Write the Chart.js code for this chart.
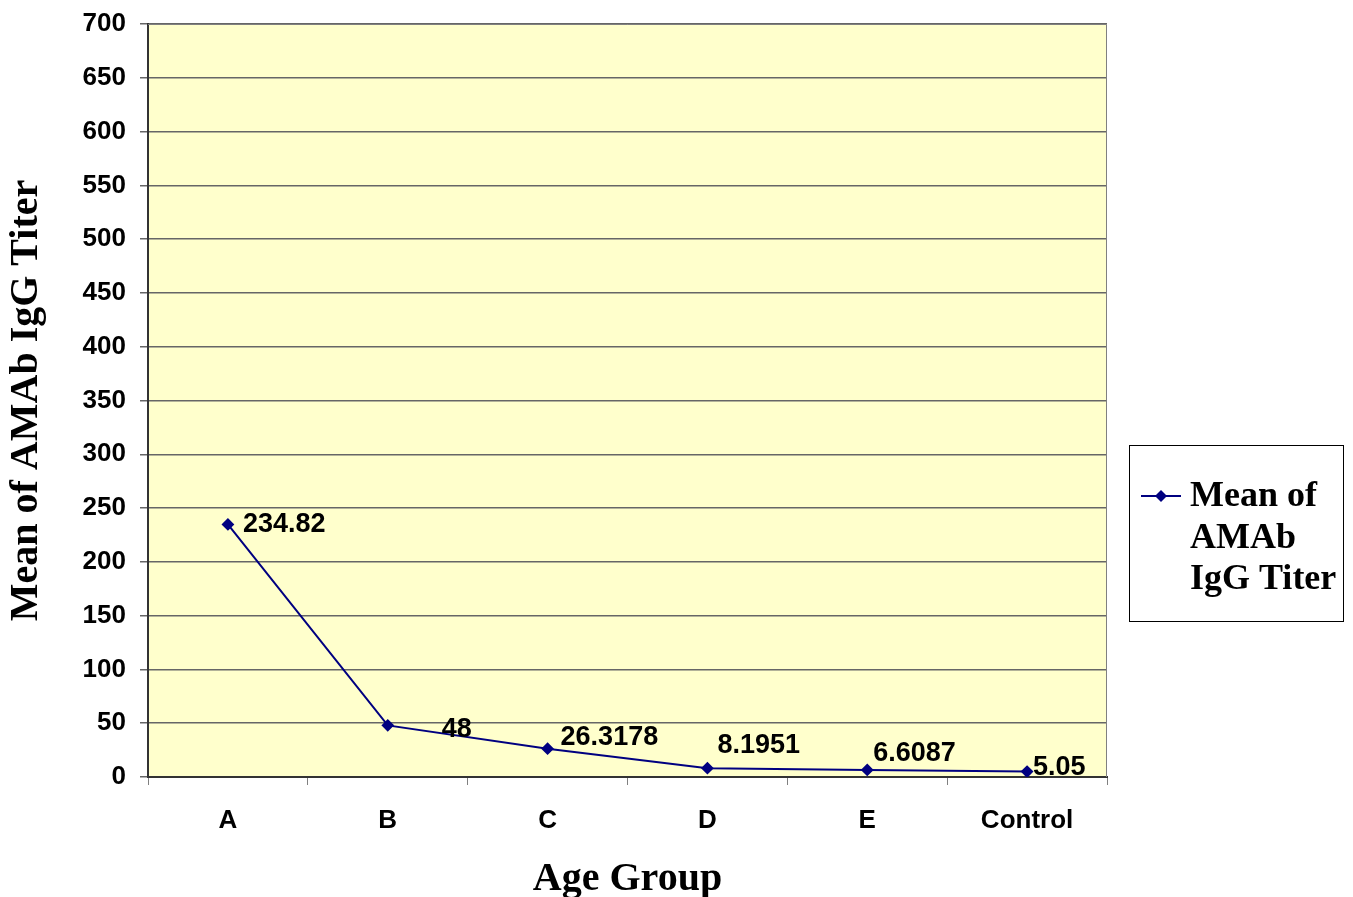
<!DOCTYPE html>
<html>
<head>
<meta charset="utf-8">
<script src="https://cdn.jsdelivr.net/npm/chart.js@4"></script>
<style>
  html, body { margin: 0; padding: 0; background: #fff; }
  #wrap { width: 1353px; height: 897px; }
</style>
</head>
<body>
<div id="wrap"><canvas id="chart" width="1353" height="897"></canvas></div>
<script>
// Data
const ageGroups = ['A', 'B', 'C', 'D', 'E', 'Control'];
const meanTiter = [234.82, 48, 26.3178, 8.1951, 6.6087, 5.05];
const valueLabels = ['234.82', '48', '26.3178', '8.1951', '6.6087', '5.05'];
const seriesName = ['Mean of', 'AMAb', 'IgG Titer'];

// label nudges (dx, dy) from each point, as placed in the original
const labelNudge = [[15, 0], [54, 4], [13, -11], [10, -23], [6, -16], [6, -4]];

const NAVY = '#000080';

// yellow plot area + border
const plotArea = {
  id: 'plotArea',
  beforeDraw(chart) {
    const { ctx, chartArea: a } = chart;
    ctx.save();
    ctx.fillStyle = '#FFFFCC';
    ctx.fillRect(a.left, a.top, a.right - a.left, a.bottom - a.top);
    ctx.restore();
  },
  afterDatasetsDraw(chart) {
    const { ctx, chartArea: a } = chart;
    ctx.save();
    ctx.strokeStyle = '#808080';
    ctx.lineWidth = 1;
    ctx.beginPath();
    ctx.moveTo(a.left, a.top + 0.5);
    ctx.lineTo(a.right - 0.5, a.top + 0.5);
    ctx.lineTo(a.right - 0.5, a.bottom);
    ctx.stroke();
    ctx.restore();
  }
};

// value labels next to points
const pointLabels = {
  id: 'pointLabels',
  afterDatasetsDraw(chart) {
    const { ctx } = chart;
    const meta = chart.getDatasetMeta(0);
    ctx.save();
    ctx.font = 'bold 27px "Liberation Sans", Arial, sans-serif';
    ctx.fillStyle = '#000';
    ctx.textAlign = 'left';
    ctx.textBaseline = 'middle';
    meta.data.forEach((pt, i) => {
      const [dx, dy] = labelNudge[i];
      ctx.fillText(valueLabels[i], pt.x + dx, pt.y + dy);
    });
    ctx.restore();
  }
};

// boxed legend on the right
const boxLegend = {
  id: 'boxLegend',
  afterDraw(chart) {
    const { ctx } = chart;
    const x = 1129, y = 445, w = 214, h = 176;
    ctx.save();
    ctx.strokeStyle = '#000';
    ctx.lineWidth = 1;
    ctx.strokeRect(x + 0.5, y + 0.5, w, h);

    const ly = 496;
    ctx.strokeStyle = NAVY;
    ctx.lineWidth = 2;
    ctx.beginPath();
    ctx.moveTo(1141, ly);
    ctx.lineTo(1181, ly);
    ctx.stroke();
    ctx.fillStyle = NAVY;
    ctx.beginPath();
    ctx.moveTo(1161, ly - 6);
    ctx.lineTo(1167, ly);
    ctx.lineTo(1161, ly + 6);
    ctx.lineTo(1155, ly);
    ctx.closePath();
    ctx.fill();

    ctx.fillStyle = '#000';
    ctx.font = 'bold 36px "Liberation Serif", "Times New Roman", serif';
    ctx.textAlign = 'left';
    ctx.textBaseline = 'middle';
    seriesName.forEach((line, i) => {
      ctx.fillText(line, 1190, ly + 1 + i * 41.5);
    });
    ctx.restore();
  }
};

new Chart(document.getElementById('chart'), {
  type: 'line',
  data: {
    labels: ageGroups,
    datasets: [{
      label: seriesName.join(' '),
      data: meanTiter,
      borderColor: NAVY,
      backgroundColor: NAVY,
      borderWidth: 2,
      pointStyle: 'rectRot',
      pointRadius: 5,
      pointHoverRadius: 5,
      tension: 0,
      fill: false
    }]
  },
  options: {
    responsive: false,
    animation: false,
    devicePixelRatio: 1,
    layout: { padding: { top: 24, right: 246, left: 0, bottom: 0 } },
    plugins: {
      legend: { display: false },
      tooltip: { enabled: false }
    },
    scales: {
      x: {
        type: 'category',
        offset: true,
        afterFit: (scale) => { scale.height = 120; },
        grid: {
          offset: true,
          drawOnChartArea: false,
          drawTicks: true,
          tickLength: 8,
          color: '#808080'
        },
        border: { color: '#333', width: 2 },
        ticks: {
          color: '#000',
          padding: 20,
          maxRotation: 0,
          font: { family: '"Liberation Sans", Arial, sans-serif', size: 26, weight: 'bold' }
        },
        title: {
          display: true,
          text: 'Age Group',
          color: '#000',
          padding: 0,
          font: { family: '"Liberation Serif", "Times New Roman", serif', size: 40, weight: 'bold', lineHeight: 0.85 }
        }
      },
      y: {
        min: 0,
        max: 700,
        afterFit: (scale) => {
          scale.width = 148;
          scale.paddingTop = 0;
          scale.paddingBottom = 0;
        },
        grid: {
          color: '#666',
          lineWidth: 1.5,
          tickLength: 8
        },
        border: { color: '#333', width: 2 },
        ticks: {
          stepSize: 50,
          color: '#000',
          padding: 14,
          font: { family: '"Liberation Sans", Arial, sans-serif', size: 26, weight: 'bold' }
        },
        title: {
          display: true,
          text: 'Mean of AMAb IgG Titer',
          color: '#000',
          padding: { top: 3, bottom: 0 },
          font: { family: '"Liberation Serif", "Times New Roman", serif', size: 40, weight: 'bold' }
        }
      }
    }
  },
  plugins: [plotArea, pointLabels, boxLegend]
});
</script>
</body>
</html>
